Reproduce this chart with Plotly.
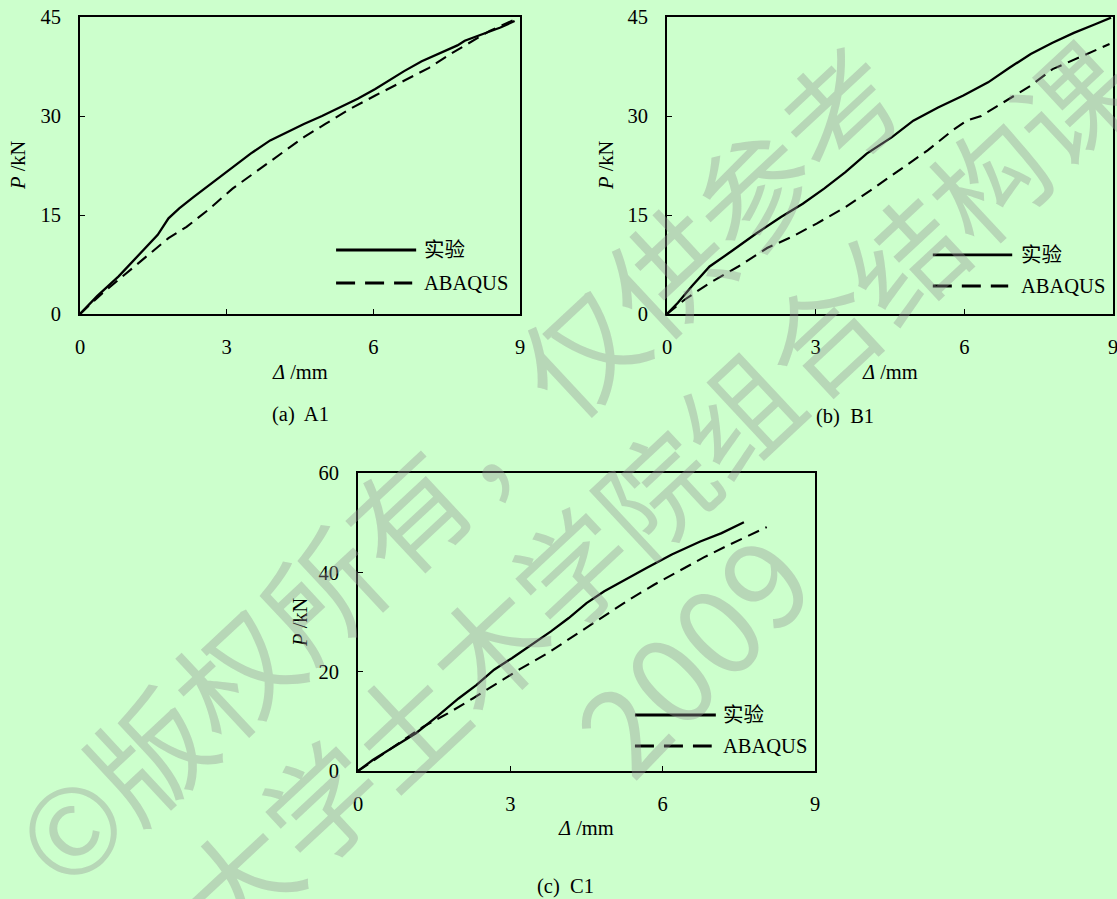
import plotly.graph_objects as go

W, H = 1117, 899

# ---------------- data ----------------
A_exp_x = [0, 0.35, 0.79, 1.30, 1.59, 1.81, 2.03, 2.32, 2.76, 3.12, 3.49, 3.89, 4.22, 4.58, 4.95, 5.31, 5.68, 6.04, 6.26, 6.63, 6.99, 7.43, 7.72, 7.87, 8.23, 8.60, 8.89]
A_exp_y = [0, 2.7, 5.7, 9.7, 12.0, 14.5, 16.0, 17.7, 20.2, 22.3, 24.3, 26.3, 27.5, 28.8, 30.0, 31.3, 32.6, 34.1, 35.1, 36.8, 38.3, 39.8, 40.7, 41.4, 42.4, 43.4, 44.4]
A_fem_x = [0, 0.42, 0.79, 1.30, 1.81, 2.18, 2.61, 3.12, 3.64, 4.07, 4.58, 5.02, 5.53, 6.04, 6.63, 7.14, 7.58, 8.09, 8.38, 8.89]
A_fem_y = [0, 2.9, 5.2, 8.4, 11.5, 13.2, 15.7, 19.0, 21.8, 24.0, 26.8, 28.8, 31.1, 33.1, 35.3, 37.3, 39.4, 41.6, 42.9, 44.6]

B_exp_x = [0, 0.22, 0.50, 0.86, 1.30, 1.80, 2.30, 2.74, 3.17, 3.60, 4.03, 4.54, 4.97, 5.47, 5.98, 6.48, 6.91, 7.34, 7.78, 8.21, 8.64, 8.96]
B_exp_y = [0, 1.7, 4.2, 7.2, 9.5, 12.2, 14.7, 16.7, 19.0, 21.5, 24.3, 26.8, 29.3, 31.3, 33.1, 35.1, 37.3, 39.4, 41.1, 42.6, 43.9, 44.9]
B_fem_x = [0, 0.36, 0.86, 1.44, 2.02, 2.52, 3.02, 3.60, 4.10, 4.68, 5.26, 5.76, 6.05, 6.34, 6.84, 7.34, 7.78, 8.28, 8.93]
B_fem_y = [0, 2.2, 4.7, 7.2, 10.0, 11.7, 13.7, 16.2, 18.7, 21.8, 24.8, 27.8, 29.3, 30.0, 32.3, 34.6, 37.1, 38.8, 40.9]

C_exp_x = [0, 0.29, 0.71, 1.14, 1.56, 1.98, 2.33, 2.68, 3.03, 3.38, 3.80, 4.15, 4.50, 4.85, 5.20, 5.69, 6.18, 6.74, 7.16, 7.60]
C_exp_y = [0, 2.2, 4.9, 7.6, 11.0, 14.6, 17.3, 20.4, 22.7, 25.1, 28.1, 30.8, 33.8, 36.2, 38.2, 40.9, 43.6, 46.2, 47.9, 50.1]
C_fem_x = [0, 0.43, 0.85, 1.28, 1.77, 2.26, 2.68, 3.17, 3.73, 4.29, 4.85, 5.34, 5.83, 6.32, 6.81, 7.30, 7.70, 8.05]
C_fem_y = [0, 2.9, 5.9, 8.9, 11.6, 14.6, 17.3, 20.4, 23.7, 27.4, 31.1, 34.5, 37.5, 40.3, 43.0, 45.5, 47.4, 49.1]

x_ticks = [0, 3, 6, 9]
yAB_ticks = [0, 15, 30, 45]
yC_ticks = [0, 20, 40, 60]

series_names = ["实验", "ABAQUS"]
captions = ["(a)\u00a0 A1", "(b)\u00a0 B1", "(c)\u00a0 C1"]
x_title = "<i>Δ</i> /mm"
y_title = "<i>P</i> /kN"
watermark = ["©版权所有，仅供参考", "大学土木学院组合结构课", "2009"]

# ---------------- layout helpers ----------------
FONT = "Liberation Serif, Times New Roman, Noto Sans CJK SC, serif"
FS = 20.5
BG = "#CCFFCC"

def px(x):
    return x / W

def py(y):
    return 1 - y / H

# plot boxes in pixels: (left, top, right, bottom)
boxes = {
    "a": (80, 17, 520, 314),
    "b": (667, 17, 1113, 314),
    "c": (358, 473, 815, 771),
}

fig = go.Figure()

def add_panel(idx, key, ex, ey, fx, fy, yticks):
    l, t, r, b = boxes[key]
    xa = "xaxis" if idx == 1 else f"xaxis{idx}"
    ya = "yaxis" if idx == 1 else f"yaxis{idx}"
    xr = "x" if idx == 1 else f"x{idx}"
    yr = "y" if idx == 1 else f"y{idx}"
    fig.add_trace(go.Scatter(x=ex, y=ey, mode="lines", xaxis=xr, yaxis=yr,
                             line=dict(color="black", width=2.3), showlegend=False,
                             name=series_names[0]))
    fig.add_trace(go.Scatter(x=fx, y=fy, mode="lines", xaxis=xr, yaxis=yr,
                             line=dict(color="black", width=2.1, dash="12px,7px"),
                             showlegend=False, name=series_names[1]))
    common = dict(showline=True, mirror=True, linecolor="black", linewidth=2,
                  ticks="inside", ticklen=5, tickwidth=1, tickcolor="black",
                  showgrid=False, zeroline=False, automargin=False,
                  ticklabeloverflow="allow",
                  tickfont=dict(family=FONT, size=FS, color="black"))
    fig.layout[xa] = dict(domain=[px(l), px(r)], range=[0, 9], tickvals=x_ticks,
                          anchor=yr, ticklabelstandoff=13, **common)
    fig.layout[ya] = dict(domain=[py(b), py(t)], range=[yticks[0], yticks[-1]],
                          tickvals=yticks, anchor=xr, ticklabelstandoff=13, **common)

add_panel(1, "a", A_exp_x, A_exp_y, A_fem_x, A_fem_y, yAB_ticks)
add_panel(2, "b", B_exp_x, B_exp_y, B_fem_x, B_fem_y, yAB_ticks)
add_panel(3, "c", C_exp_x, C_exp_y, C_fem_x, C_fem_y, yC_ticks)

# legends (per panel): (x0, x1_solid, x1_dash, y_solid, y_dash, text_x) in domain fractions
legends = [
    ("x", "y", 0.582, 0.764, 0.755, 0.2155, 0.104, 0.778),
    ("x2", "y2", 0.596, 0.774, 0.765, 0.199, 0.094, 0.789),
    ("x3", "y3", 0.606, 0.783, 0.774, 0.188, 0.084, 0.795),
]
for xr, yr, x0, x1s, x1d, ys, yd, tx in legends:
    fig.add_shape(type="line", xref=f"{xr} domain", yref=f"{yr} domain",
                  x0=x0, x1=x1s, y0=ys, y1=ys, line=dict(color="black", width=2.8))
    fig.add_shape(type="line", xref=f"{xr} domain", yref=f"{yr} domain",
                  x0=x0, x1=x1d, y0=yd, y1=yd,
                  line=dict(color="black", width=3, dash="19px,10px"))
    fig.add_annotation(xref=f"{xr} domain", yref=f"{yr} domain", x=tx, y=ys,
                       text=series_names[0], showarrow=False, xanchor="left",
                       yanchor="middle", font=dict(family=FONT, size=FS, color="black"))
    fig.add_annotation(xref=f"{xr} domain", yref=f"{yr} domain", x=tx, y=yd,
                       text=series_names[1], showarrow=False, xanchor="left",
                       yanchor="middle", font=dict(family=FONT, size=FS, color="black"))

# axis titles and captions (pixel positions)
texts = [
    (x_title, 300, 372, 0), (x_title, 890, 372, 0), (x_title, 586, 828, 0),
    (y_title, 18, 165, -90), (y_title, 606, 165, -90), (y_title, 300, 622, -90),
    (captions[0], 300, 414, 0), (captions[1], 845, 416, 0), (captions[2], 565, 886, 0),
]
for t, x, y, ang in texts:
    fig.add_annotation(xref="paper", yref="paper", x=px(x), y=py(y), text=t,
                       showarrow=False, xanchor="center", yanchor="middle",
                       textangle=ang, font=dict(family=FONT, size=FS, color="black"))

# watermark
WM_COLOR = "rgba(150,150,150,0.38)"
WM_FONT = "Noto Sans CJK SC, Noto Sans, sans-serif"
for t, x, y, size, ang in [
    (watermark[0], 455, 462, 118, -43),
    (watermark[1], 652, 488, 114, -43),
    (watermark[2], 688, 650, 122, -46),
]:
    fig.add_annotation(xref="paper", yref="paper", x=px(x), y=py(y), text=t,
                       showarrow=False, xanchor="center", yanchor="middle",
                       textangle=ang, font=dict(family=WM_FONT, size=size, color=WM_COLOR))

fig.update_layout(width=W, height=H, margin=dict(l=0, r=0, t=0, b=0, autoexpand=False),
                  paper_bgcolor=BG, plot_bgcolor=BG, showlegend=False)

fig.write_html("out.html")
